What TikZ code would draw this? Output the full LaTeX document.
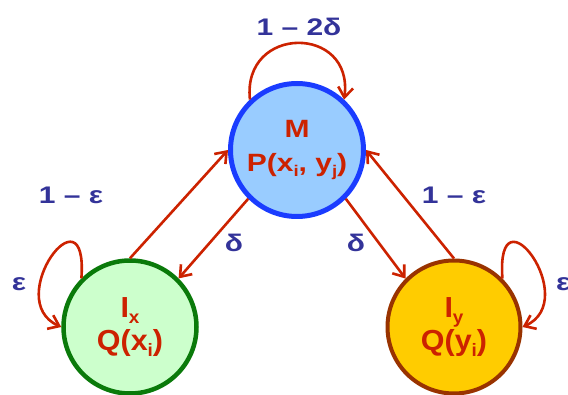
\documentclass[tikz,border=0pt]{standalone}
\usepackage{fontspec}
\setmainfont{Liberation Sans}
\usepackage{graphicx}
\usepackage{tikz}
\usetikzlibrary{calc,arrows.meta,positioning}
\definecolor{arrc}{HTML}{CC2200}
\definecolor{txtc}{HTML}{CC2200}
\definecolor{lblc}{HTML}{333399}
\definecolor{mline}{HTML}{1A3CFF}
\definecolor{mfill}{HTML}{99CCFF}
\definecolor{xline}{HTML}{0A7A0A}
\definecolor{xfill}{HTML}{CCFFCC}
\definecolor{yline}{HTML}{993300}
\definecolor{yfill}{HTML}{FFCC00}
\newcommand{\wide}[2][1.25]{\scalebox{#1}[1]{#2}}
\newcommand{\lowsub}[1]{\raisebox{-0.4ex}{\scalebox{0.62}{#1}}}
\tikzset{
  ar/.style={-{Straight Barb[length=10pt,width=15pt]},line width=2.6pt,arrc},
  st/.style={circle,line width=5pt,minimum size=133pt,inner sep=0pt,align=center,text=txtc,font=\bfseries\fontsize{25}{34}\selectfont},
  ist/.style={st,line width=4.5pt,font=\bfseries\fontsize{29}{33}\selectfont},
  lb/.style={text=lblc,font=\bfseries\fontsize{24}{28}\selectfont,inner sep=0pt}
}

\begin{document}
\begin{tikzpicture}[x=1pt,y=-1pt]
\useasboundingbox (0,0) rectangle (568,395);
\node[st,draw=mline,fill=mfill] (M) at (297,150) {\wide[1.2]{M}\\\wide[1.2]{P(x\lowsub{i}, y\lowsub{j})}};
\node[ist,draw=xline,fill=xfill] (Ix) at (130,327) {\wide[1.05]{I\lowsub{x}}\\\wide[1.05]{Q(x\lowsub{i})}};
\node[ist,draw=yline,fill=yfill,line width=4pt] (Iy) at (454,327) {\wide[1.05]{I\lowsub{y}}\\\wide[1.05]{Q(y\lowsub{i})}};
% transitions
\draw[ar] (Ix.north) -- (M.west);
\draw[ar] (M.225) -- (Ix.45);
\draw[ar] (M.315) -- (Iy.135);
\draw[ar] (Iy.north) -- (M.east);
% self loops
\draw[ar] (M.133) .. controls ($(M.133)+(-8,-75)$) and ($(M.47)+(10,-75)$) .. (M.47);
\draw[ar] (Ix.135) .. controls ($(Ix.135)+(7,-95)$) and ($(Ix.west)+(-60,-27)$) .. (Ix.west);
\draw[ar] (Iy.45) .. controls ($(Iy.45)+(-7,-95)$) and ($(Iy.east)+(60,-27)$) .. (Iy.east);
% probabilities
\node[lb] (pm) at (299,27) {\wide{1 – 2δ}};
\node[lb] (px) at (71,195) {\wide{1 – ε}};
\node[lb] (ex) at (19,284) {\wide{ε}};
\node[lb] (dx) at (234,243) {\wide{δ}};
\node[lb] (dy) at (356,243) {\wide{δ}};
\node[lb] (py) at (454,195) {\wide{1 – ε}};
\node[lb,anchor=west] (ey) at (556,284) {\wide{ε}};
\end{tikzpicture}
\end{document}
